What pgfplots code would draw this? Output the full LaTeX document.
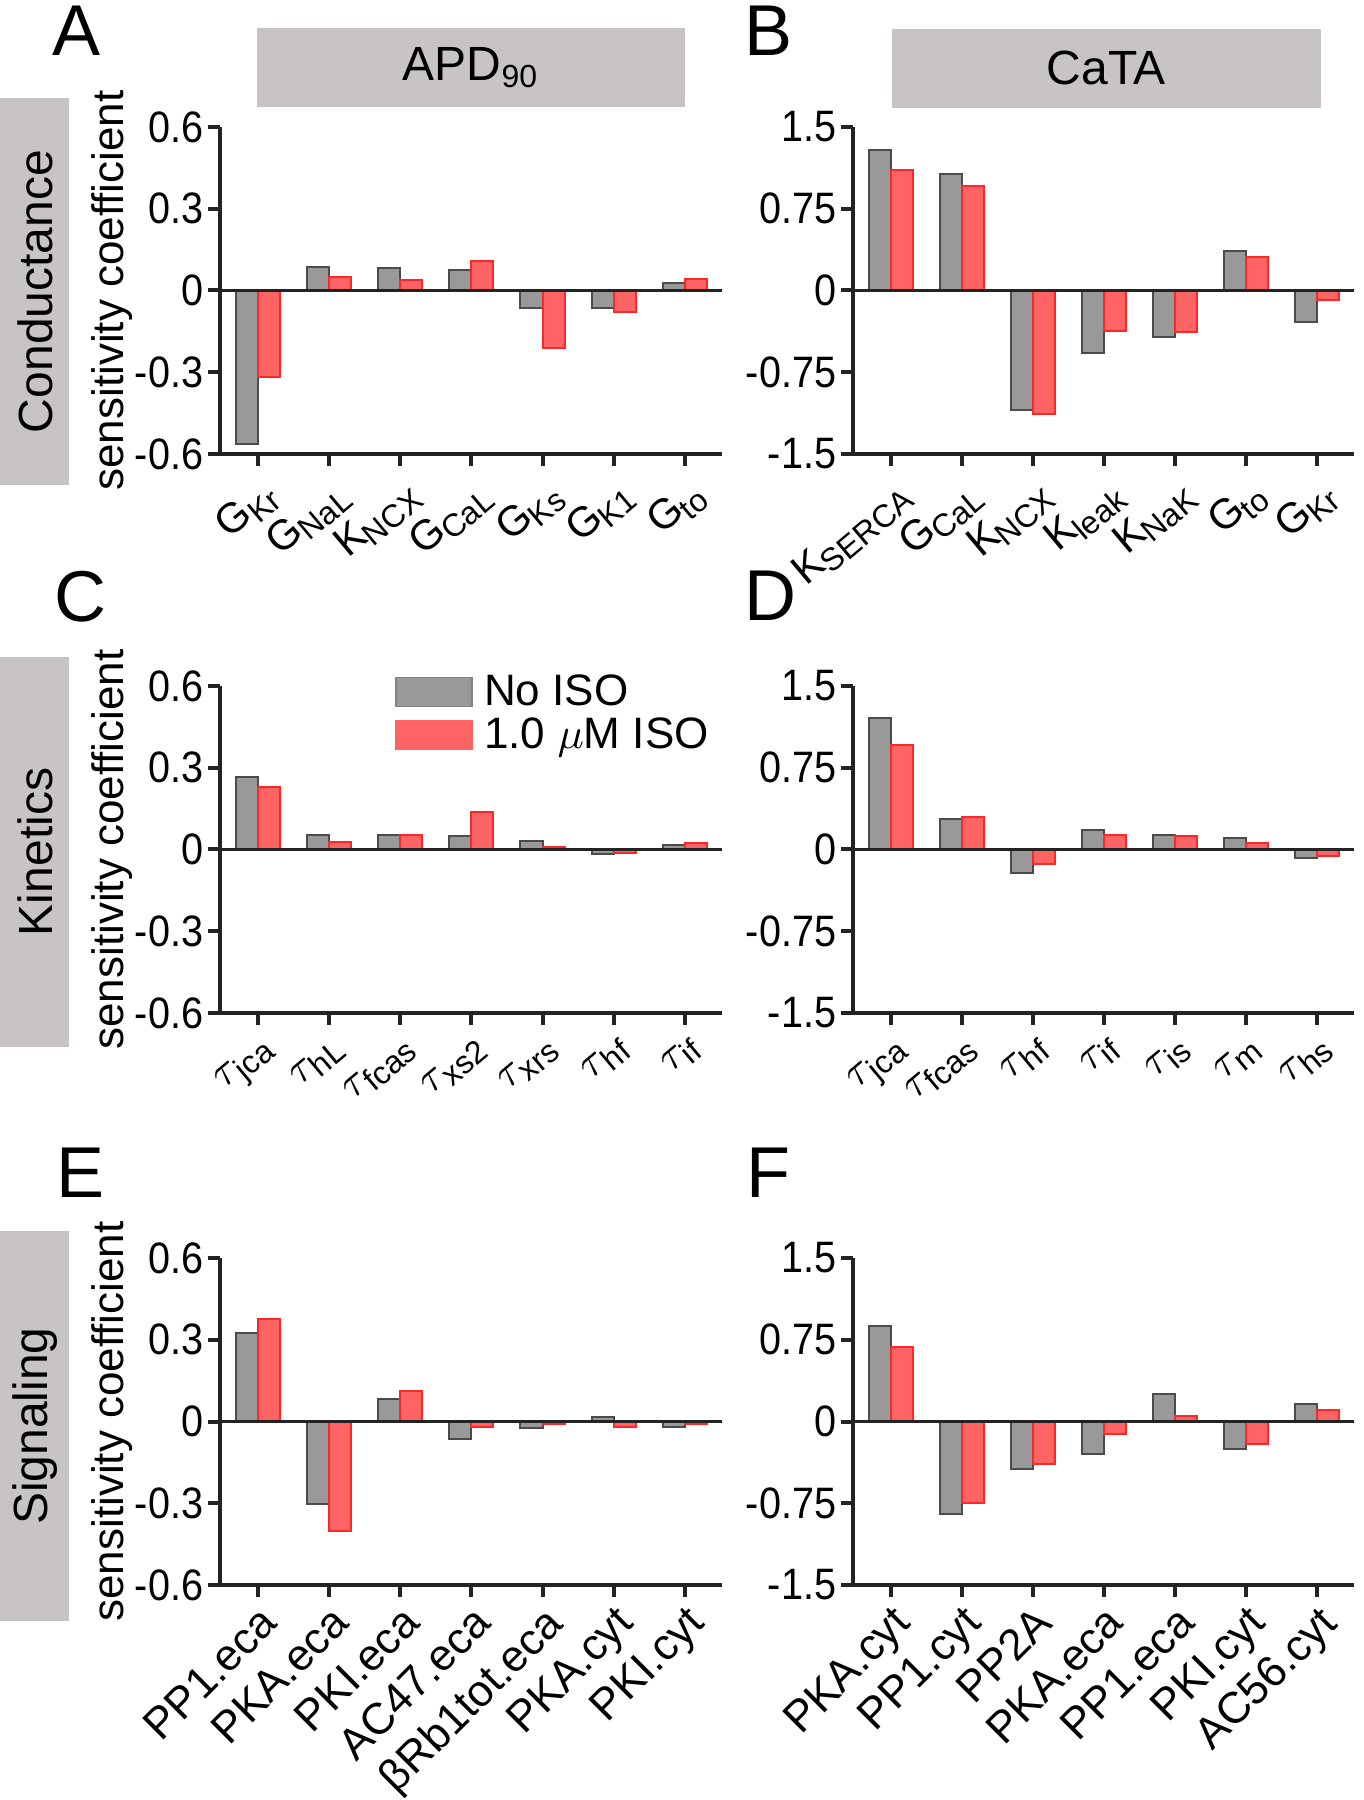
\documentclass[border=0pt]{standalone}
\usepackage{fontspec}
\setmainfont{Liberation Sans}
\usepackage{graphicx}
\usepackage{pgfplots}
\usepackage{pgfplotstable}
\pgfplotsset{compat=1.18}
\definecolor{barg}{RGB}{153,153,153}
\definecolor{bargd}{RGB}{75,75,75}
\definecolor{barr}{RGB}{255,100,100}
\definecolor{barrd}{RGB}{250,40,40}
\definecolor{boxg}{RGB}{201,196,196}
\definecolor{axc}{RGB}{35,35,35}
\newcommand{\yt}[1]{\scalebox{0.9}[1]{#1}}
\newcommand{\subl}[2]{#1\kern-0.3pt\raisebox{-0.35ex}{\fontsize{8}{9}\selectfont #2}}
\newcommand{\ta}[1]{$\tau$\kern-0.6pt\raisebox{-0.35ex}{\fontsize{8}{9}\selectfont #1}}

\pgfplotstableread{
x g r
0 -0.563 -0.318
1 0.085 0.051
2 0.081 0.039
3 0.076 0.108
4 -0.066 -0.210
5 -0.066 -0.080
6 0.029 0.042
}\tA
\pgfplotstableread{
x g r
0 1.288 1.106
1 1.070 0.955
2 -1.092 -1.129
3 -0.578 -0.371
4 -0.427 -0.380
5 0.364 0.309
6 -0.288 -0.084
}\tB
\pgfplotstableread{
x g r
0 0.267 0.230
1 0.053 0.029
2 0.053 0.053
3 0.049 0.138
4 0.031 0.009
5 -0.017 -0.014
6 0.015 0.022
}\tC
\pgfplotstableread{
x g r
0 1.203 0.963
1 0.284 0.294
2 -0.214 -0.134
3 0.177 0.129
4 0.136 0.120
5 0.104 0.057
6 -0.077 -0.061
}\tD
\pgfplotstableread{
x g r
0 0.326 0.375
1 -0.302 -0.402
2 0.084 0.113
3 -0.063 -0.019
4 -0.025 -0.008
5 0.016 -0.019
6 -0.019 -0.009
}\tE
\pgfplotstableread{
x g r
0 0.877 0.686
1 -0.848 -0.750
2 -0.4375 -0.387
3 -0.297 -0.113
4 0.253 0.051
5 -0.254 -0.203
6 0.160 0.109
}\tF

\pgfplotsset{
  panel/.style={
    scale only axis, width=125.5pt, height=81.75pt,
    anchor=south west,
    xmin=-0.53, xmax=6.52,
    axis x line=bottom, axis y line=left,
    x axis line style={-}, y axis line style={-},
    axis line style={line width=1pt, draw=axc},
    axis on top,
    xtick={0,...,6}, tick align=outside, major tick length=3pt,
    tick style={line width=1pt, draw=axc},
    ticklabel style={font=\fontsize{11}{13}\selectfont},
    y tick label style={inner sep=1pt},
  },
  symlab/.style={x tick label style={rotate=40, anchor=north east, inner sep=1pt, yshift=-1pt, font=\fontsize{10.5}{12}\selectfont}},
  namelab/.style={x tick label style={rotate=45, anchor=north east, inner sep=1pt}},
  col1/.style={
    ymin=-0.6, ymax=0.6, ytick={-0.6,-0.3,0,0.3,0.6},
    yticklabels={\yt{-0.6},\yt{-0.3},\yt{0},\yt{0.3},\yt{0.6}},
    ylabel={sensitivity coefficient},
    every axis y label/.style={at={(axis description cs:-0.215,0.5)}, rotate=90, anchor=center, font=\fontsize{11}{13}\selectfont},
  },
  col2/.style={
    width=125.25pt,
    ymin=-1.5, ymax=1.5, ytick={-1.5,-0.75,0,0.75,1.5},
    yticklabels={\yt{-1.5},\yt{-0.75},\yt{0},\yt{0.75},\yt{1.5}},
  },
  gbar/.style={ybar, bar width=0.31, bar shift=-0.155, fill=barg, draw=bargd, line width=0.5pt,
    legend image code/.code={\fill[fill=barg, draw=barg!85!black, line width=0.4pt] (0pt,-3.6pt) rectangle (19pt,3.6pt); \path[draw=none, fill=none] (0pt,0pt) -- (21.5pt,0pt);}},
  rbar/.style={ybar, bar width=0.31, bar shift=0.155, fill=barr, draw=barrd, line width=0.5pt,
    legend image code/.code={\fill[fill=barr, draw=barr, line width=0.4pt] (0pt,-3.6pt) rectangle (19pt,3.6pt); \path[draw=none, fill=none] (0pt,0pt) -- (21.5pt,0pt);}},
  zline/.style={axc, line width=0.8pt, forget plot},
}

\begin{document}
\begin{tikzpicture}
\useasboundingbox (0,0) rectangle (340.75pt,450pt);

% header boxes
\fill[boxg] (64.25pt,423.25pt) rectangle (171.25pt,443pt);
\node[font=\fontsize{12}{14}\selectfont] at (117.75pt,433.1pt) {APD\textsubscript{90}};
\fill[boxg] (223pt,423pt) rectangle (330.25pt,442.75pt);
\node[font=\fontsize{12}{14}\selectfont] at (276.6pt,432.9pt) {CaTA};

% row boxes
\fill[boxg] (0pt,328.75pt) rectangle (17.25pt,425.5pt);
\node[rotate=90, font=\fontsize{12}{14}\selectfont] at (8.8pt,377.1pt) {Conductance};
\fill[boxg] (0pt,188.25pt) rectangle (17.25pt,285.75pt);
\node[rotate=90, font=\fontsize{12}{14}\selectfont] at (8.8pt,237pt) {Kinetics};
\fill[boxg] (0pt,44.75pt) rectangle (17.25pt,142.25pt);
\node[rotate=90, font=\fontsize{12}{14}\selectfont] at (8.8pt,93.5pt) {Signaling};

% panel letters
\foreach \l/\x/\y in {A/13/448.75, B/186/448.75, C/13.5/307.5, D/186/307.5, E/14/163.25, F/186.5/163.25}
  \node[anchor=north west, inner sep=0pt, font=\fontsize{18}{20}\selectfont] at (\x pt,\y pt) {\l};

% A
\begin{axis}[panel, col1, symlab, at={(55pt,336.5pt)},
  xticklabels={\subl{G}{Kr},\subl{G}{NaL},\subl{K}{NCX},\subl{G}{CaL},\subl{G}{Ks},\subl{G}{K1},\subl{G}{to}}]
\addplot[gbar] table[x=x,y=g]{\tA};
\addplot[rbar] table[x=x,y=r]{\tA};
\addplot[zline] coordinates {(-0.53,0) (6.52,0)};
\end{axis}

% B
\begin{axis}[panel, col2, symlab, at={(213.25pt,336.5pt)},
  xticklabels={\subl{K}{SERCA},\subl{G}{CaL},\subl{K}{NCX},\subl{K}{leak},\subl{K}{NaK},\subl{G}{to},\subl{G}{Kr}}]
\addplot[gbar] table[x=x,y=g]{\tB};
\addplot[rbar] table[x=x,y=r]{\tB};
\addplot[zline] coordinates {(-0.53,0) (6.52,0)};
\end{axis}

% C
\begin{axis}[panel, col1, symlab, at={(55pt,196.75pt)},
  xticklabels={\ta{jca},\ta{hL},\ta{fcas},\ta{xs2},\ta{xrs},\ta{hf},\ta{if}},
  legend style={at={(0.347,1.05)}, anchor=north west, draw=none, fill=none,
    font=\fontsize{11}{13}\selectfont, row sep=0pt, inner sep=0pt,
    nodes={inner sep=0.6pt, text height=8.2pt, text depth=1.4pt}},
  legend cell align=left]
\addplot[gbar] table[x=x,y=g]{\tC};
\addplot[rbar] table[x=x,y=r]{\tC};
\addplot[zline] coordinates {(-0.53,0) (6.52,0)};
\legend{No ISO, 1.0 $\mu$M ISO}
\end{axis}

% D
\begin{axis}[panel, col2, symlab, at={(213.25pt,196.75pt)},
  xticklabels={\ta{jca},\ta{fcas},\ta{hf},\ta{if},\ta{is},\ta{m},\ta{hs}}]
\addplot[gbar] table[x=x,y=g]{\tD};
\addplot[rbar] table[x=x,y=r]{\tD};
\addplot[zline] coordinates {(-0.53,0) (6.52,0)};
\end{axis}

% E
\begin{axis}[panel, col1, namelab, at={(55pt,53.75pt)},
  xticklabels={PP1.eca,PKA.eca,PKI.eca,AC47.eca,βRb1tot.eca,PKA.cyt,PKI.cyt}]
\addplot[gbar] table[x=x,y=g]{\tE};
\addplot[rbar] table[x=x,y=r]{\tE};
\addplot[zline] coordinates {(-0.53,0) (6.52,0)};
\end{axis}

% F
\begin{axis}[panel, col2, namelab, at={(213.25pt,53.75pt)},
  xticklabels={PKA.cyt,PP1.cyt,PP2A,PKA.eca,PP1.eca,PKI.cyt,AC56.cyt}]
\addplot[gbar] table[x=x,y=g]{\tF};
\addplot[rbar] table[x=x,y=r]{\tF};
\addplot[zline] coordinates {(-0.53,0) (6.52,0)};
\end{axis}
\end{tikzpicture}
\end{document}
